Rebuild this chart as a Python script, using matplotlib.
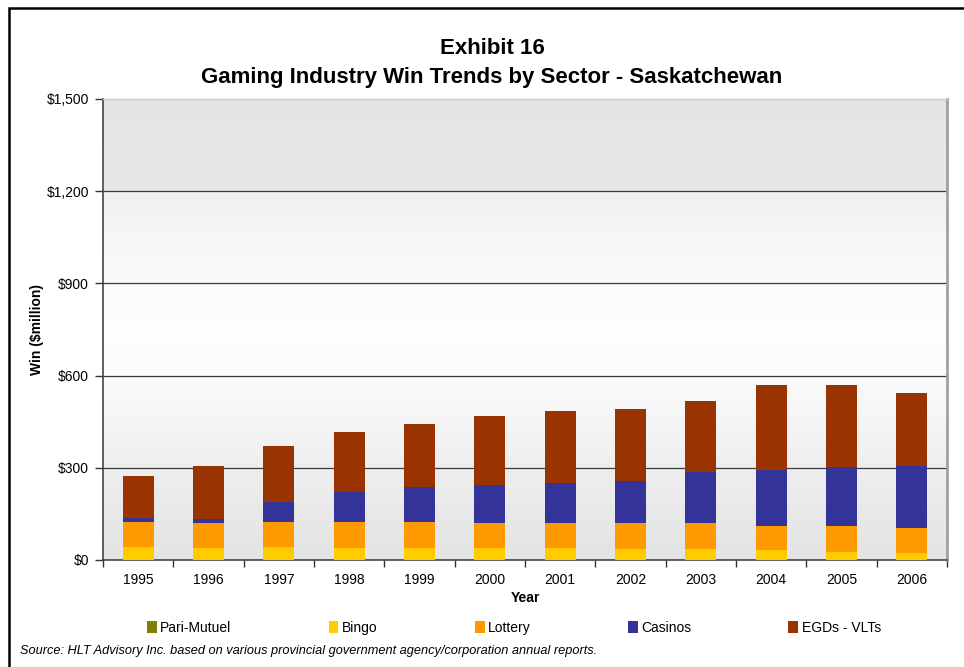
import matplotlib
matplotlib.use('Agg')
import matplotlib.pyplot as plt
import numpy as np
from matplotlib.patches import Rectangle
from matplotlib.ticker import FuncFormatter

plt.rcParams['font.family'] = ['Liberation Sans', 'DejaVu Sans']

years = ['1995', '1996', '1997', '1998', '1999', '2000',
         '2001', '2002', '2003', '2004', '2005', '2006']
pari_mutuel = [1, 1, 1, 1, 1, 1, 1, 1, 1, 1, 1, 1]
bingo = [41, 39, 41, 39, 39, 39, 39, 36, 35, 32, 26, 23]
lottery = [83, 82, 83, 83, 85, 79, 79, 82, 83, 78, 84, 79]
casinos = [11, 13, 65, 97, 111, 126, 132, 139, 166, 183, 192, 203]
egds_vlts = [138, 171, 182, 195, 207, 222, 233, 234, 231, 274, 267, 238]

series = [('Pari-Mutuel', pari_mutuel, '#808000'),
          ('Bingo', bingo, '#FFCC00'),
          ('Lottery', lottery, '#FF9900'),
          ('Casinos', casinos, '#333399'),
          ('EGDs - VLTs', egds_vlts, '#993300')]

fig = plt.figure(figsize=(9.64, 6.67), dpi=100)
ax = fig.add_axes([103/964, 107/667, 844/964, 461/667])

# outer frame (left/top visible, rest runs off the page)
fig.patches.append(Rectangle((8.5/964, -0.1), 1.2, (659/667) + 0.1, transform=fig.transFigure,
                             fill=False, edgecolor='black', linewidth=1.8))

# background gradient: grey at top, white in the middle, grey at bottom
yy = np.linspace(0, 1500, 400)
shade = np.interp(yy, [0, 300, 600, 750, 900, 1200, 1201, 1500],
                  [0.89, 0.935, 0.985, 0.995, 0.985, 0.945, 0.91, 0.895])
grad = np.dstack([shade, shade, shade]).reshape(-1, 1, 3)
ax.imshow(grad, extent=[-0.5, 11.5, 0, 1500], origin='lower', aspect='auto', zorder=0)

x = np.arange(len(years))
bottom = np.zeros(len(years))
for name, vals, col in series:
    ax.bar(x, vals, width=0.44, bottom=bottom, color=col, label=name, zorder=3,
           edgecolor='none')
    bottom += np.array(vals)

ax.set_xlim(-0.5, 11.5)
ax.set_ylim(0, 1500)
ax.set_yticks([0, 300, 600, 900, 1200, 1500])
ax.yaxis.set_major_formatter(FuncFormatter(lambda v, p: '${:,.0f}'.format(v)))
for g in [300, 600, 900, 1200]:
    ax.axhline(g, color='#3a3a3a', linewidth=0.9, zorder=1)

ax.set_xticks(np.arange(-0.5, 12, 1))
ax.set_xticklabels([])
ax.set_xticks(x, minor=True)
ax.set_xticklabels(years, minor=True)
ax.tick_params(axis='x', which='minor', length=0, pad=9, labelsize=10)
ax.tick_params(axis='x', which='major', length=5, width=1, color='#333333')
ax.tick_params(axis='y', length=6, width=1, color='#333333', labelsize=10, pad=4)

ax.spines['left'].set_color('#444444')
ax.spines['left'].set_linewidth(1.2)
ax.spines['bottom'].set_color('#444444')
ax.spines['bottom'].set_linewidth(1.2)
ax.spines['top'].set_color('#c8c8c8')
ax.spines['top'].set_linewidth(1.0)
ax.spines['right'].set_color('#a0a0a0')
ax.spines['right'].set_linewidth(2.0)

ax.set_ylabel('Win ($million)', fontsize=10, fontweight='bold', labelpad=2)
ax.set_xlabel('Year', fontsize=10, fontweight='bold', labelpad=3)

fig.text(492/964, 1 - 48/667, 'Exhibit 16', ha='center', va='center',
         fontsize=16, fontweight='bold')
fig.text(492/964, 1 - 77/667, 'Gaming Industry Win Trends by Sector - Saskatchewan',
         ha='center', va='center', fontsize=16, fontweight='bold')

handles, labels = ax.get_legend_handles_labels()
fig.legend(handles, labels, loc='center', bbox_to_anchor=(514/964, 1 - 628/667), ncol=5,
           frameon=False, fontsize=10, handlelength=0.7, handleheight=0.9,
           handletextpad=0.25, columnspacing=7.0)

fig.text(20/964, 1 - 651/667,
         'Source: HLT Advisory Inc. based on various provincial government agency/corporation annual reports.',
         ha='left', va='center', fontsize=9.2, style='italic')

fig.savefig('out.png', dpi=100)
